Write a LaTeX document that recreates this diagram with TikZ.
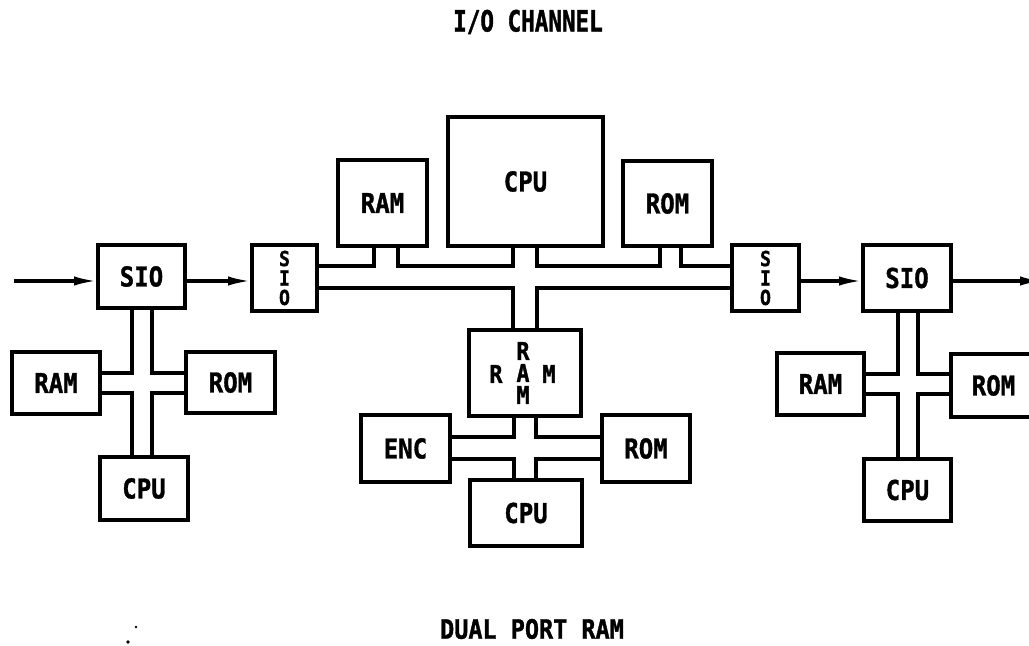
\documentclass[tikz,border=0pt]{standalone}
\usepackage{fontspec}
\usetikzlibrary{arrows.meta}
\newfontfamily\boxfam[FakeStretch=0.88,FakeBold=1.2]{DejaVu Sans Mono}
\newfontfamily\ttlfam[FakeStretch=0.77,FakeBold=1.2]{DejaVu Sans Mono}
\tikzset{
  box/.style={draw, line width=2.6pt, inner sep=0pt, outer sep=0pt, align=center,
    font=\boxfam\bfseries\fontsize{20.5}{24}\selectfont},
  stk/.style={font=\boxfam\bfseries\fontsize{15.5}{14.6}\selectfont},
  rmlbl/.style={inner sep=0pt, font=\boxfam\bfseries\fontsize{18.5}{16.5}\selectfont, align=center},
  bus/.style={line width=2.6pt, line join=miter},
  arr/.style={line width=2.6pt, -{Latex[length=18pt,width=7pt]}},
  ttl/.style={inner sep=0pt, font=\ttlfam\bfseries\fontsize{22}{26}\selectfont},
  btm/.style={inner sep=0pt, font=\boxfam\bfseries\fontsize{20}{24}\selectfont}
}
\newcommand\mybox[7][]{\node[box,#1,minimum width={(#5-#3)*0.75pt},minimum height={(#6-#4)*0.75pt}] (#2) at ({(#3+#5)/2},{(#4+#6)/2}) {#7};}
% top, bottom, left, right, cx, cy, gx, gy
\newcommand\crossbus[8]{%
  \coordinate (#1nw) at ({#5-#7},{#6-#8});
  \coordinate (#1ne) at ({#5+#7},{#6-#8});
  \coordinate (#1sw) at ({#5-#7},{#6+#8});
  \coordinate (#1se) at ({#5+#7},{#6+#8});
  \draw[bus] (#1.south -| #1nw) -- (#1nw) -- (#3.east |- #1nw);
  \draw[bus] (#1.south -| #1ne) -- (#1ne) -- (#4.west |- #1ne);
  \draw[bus] (#3.east |- #1sw) -- (#1sw) -- (#2.north -| #1sw);
  \draw[bus] (#4.west |- #1se) -- (#1se) -- (#2.north -| #1se);
}
\begin{document}
\begin{tikzpicture}[x=0.75pt,y=-0.75pt]
\useasboundingbox (0,0) rectangle (1029,646);
\clip (0,0) rectangle (1029,646);
\fill[white] (0,0) rectangle (1029,646);

% titles
\node[ttl] (title) at (528,22) {I/O CHANNEL};
\node[btm] (dpr) at (532,629) {DUAL PORT RAM};

% left group
\mybox{sioL}{98}{245}{185}{308}{SIO}
\mybox[stk]{sioSA}{252}{245}{317}{311}{S\\I\\O}
\mybox{ramL}{12}{352}{100}{414}{RAM}
\mybox{romL}{186}{352}{275}{413}{ROM}
\mybox{cpuL}{100}{457}{188}{520}{CPU}

% centre
\mybox{ramT}{338}{160}{427}{246}{RAM}
\mybox{cpuT}{448}{117}{603}{246}{CPU}
\mybox{romT}{623}{161}{712}{246}{ROM}
\mybox{ramM}{469}{330}{581}{416}{}
\node[rmlbl] (ramMr) at (496,374) {R};
\node[rmlbl] (ramMm) at (549,374) {M};
\node[rmlbl] (ramMv) at (523,373) {R\\A\\M};
\mybox{enc}{361}{415}{450}{482}{ENC}
\mybox{romC}{602}{415}{690}{482}{ROM}
\mybox{cpuC}{470}{480}{582}{546}{CPU}

% right group
\mybox[stk]{sioSB}{732}{245}{799}{311}{S\\I\\O}
\mybox{sioR}{863}{245}{951}{311}{SIO}
\mybox{ramR}{777}{353}{864}{415}{RAM}
\mybox{romR}{951}{354}{1036}{417}{ROM}
\mybox{cpuR}{864}{459}{951}{521}{CPU}

% serial arrows
\coordinate (inL) at (14,281);
\coordinate (outR) at (1044,281);
\draw[arr] (inL) -- (inL -| sioL.west);
\draw[arr] (sioL.east |- inL) -- (sioSA.west |- inL);
\draw[arr] (sioSB.east |- inL) -- (sioR.west |- inL);
\draw[arr] (sioR.east |- inL) -- (outR);

% main bus
\coordinate (ua) at (374,266);
\coordinate (ub) at (398,266);
\coordinate (uc) at (513,266);
\coordinate (ud) at (537,266);
\coordinate (ue) at (660,266);
\coordinate (uf) at (681,266);
\coordinate (la) at (513,288);
\coordinate (lb) at (537,288);
\draw[bus] (sioSA.east |- ua) -- (ua) -- (ramT.south -| ua);
\draw[bus] (ramT.south -| ub) -- (ub) -- (uc) -- (cpuT.south -| uc);
\draw[bus] (cpuT.south -| ud) -- (ud) -- (ue) -- (romT.south -| ue);
\draw[bus] (romT.south -| uf) -- (uf) -- (sioSB.west |- uf);
\draw[bus] (sioSA.east |- la) -- (la) -- (ramM.north -| la);
\draw[bus] (ramM.north -| lb) -- (lb) -- (sioSB.west |- lb);

% local buses
\crossbus{sioL}{cpuL}{ramL}{romL}{142}{383}{10}{10}
\crossbus{ramM}{cpuC}{enc}{romC}{525}{448}{11}{11}
\crossbus{sioR}{cpuR}{ramR}{romR}{908}{384}{10}{10}

% specks
\fill (136,627) circle (1.1pt);
\fill (128,642) circle (1.4pt);
\end{tikzpicture}
\end{document}
